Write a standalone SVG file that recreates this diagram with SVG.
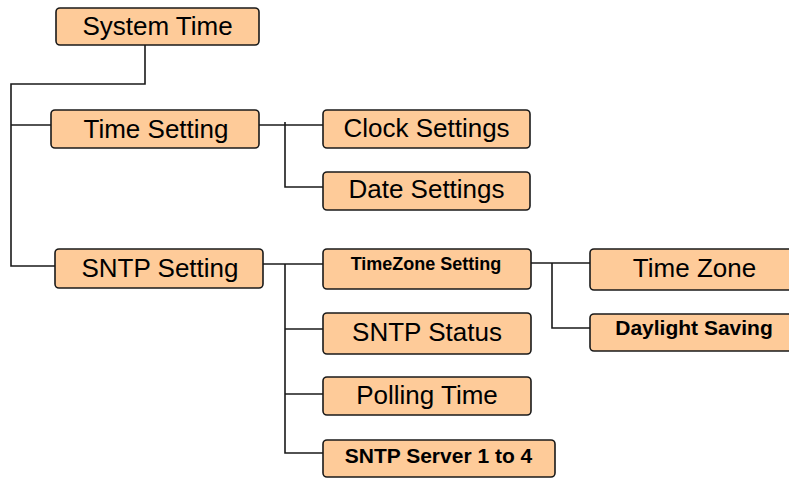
<svg xmlns="http://www.w3.org/2000/svg" width="789" height="480" viewBox="0 0 789 480">
<style>
.box{fill:#FECB99;stroke:#1a1a1a;stroke-width:1.6}
.t{font-family:"Liberation Sans",Arial,sans-serif;font-size:26px;fill:#000;text-anchor:middle}
.b{font-family:"Liberation Sans",Arial,sans-serif;font-weight:bold;fill:#000;text-anchor:middle}
.c{fill:none;stroke:#1a1a1a;stroke-width:1.6}
</style>
<rect width="789" height="480" fill="#fff"/>
<g id="connectors">
<polyline class="c" points="145,45 145,84 11,84 11,266 55,266"/>
<line class="c" x1="11" y1="125" x2="51" y2="125"/>
<line class="c" x1="259" y1="125" x2="323" y2="125"/>
<polyline class="c" points="285,122 285,187 323,187"/>
<line class="c" x1="263" y1="264" x2="323" y2="264"/>
<polyline class="c" points="285,264 285,453 323,453"/>
<line class="c" x1="285" y1="329" x2="323" y2="329"/>
<line class="c" x1="285" y1="394" x2="323" y2="394"/>
<line class="c" x1="527" y1="263" x2="590" y2="263"/>
<polyline class="c" points="552,263 552,328 590,328"/>
</g>
<g id="system-time"><rect class="box" x="56" y="8" width="203" height="37" rx="4"/><text class="t" x="157.5" y="35">System Time</text></g>
<g id="time-setting"><rect class="box" x="51" y="110" width="208" height="38" rx="4"/><text class="t" x="156" y="138">Time Setting</text></g>
<g id="clock-settings"><rect class="box" x="323" y="110" width="207" height="38" rx="4"/><text class="t" x="426.5" y="137">Clock Settings</text></g>
<g id="date-settings"><rect class="box" x="323" y="172" width="207" height="38" rx="4"/><text class="t" x="426.5" y="198">Date Settings</text></g>
<g id="sntp-setting"><rect class="box" x="55" y="249" width="208" height="39" rx="4"/><text class="t" x="160" y="277">SNTP Setting</text></g>
<g id="timezone-setting"><rect class="box" x="323" y="249" width="208" height="40" rx="4"/><text class="b" x="426" y="270" font-size="18">TimeZone Setting</text></g>
<g id="sntp-status"><rect class="box" x="323" y="313" width="208" height="41" rx="4"/><text class="t" x="427" y="341">SNTP Status</text></g>
<g id="polling-time"><rect class="box" x="323" y="377" width="208" height="38" rx="4"/><text class="t" x="427" y="404">Polling Time</text></g>
<g id="sntp-server"><rect class="box" x="323" y="440" width="232" height="37" rx="4"/><text class="b" x="438.5" y="463" font-size="21">SNTP Server 1 to 4</text></g>
<g id="time-zone"><rect class="box" x="590" y="249" width="210" height="41" rx="4"/><text class="t" x="694.5" y="277">Time Zone</text></g>
<g id="daylight-saving"><rect class="box" x="590" y="314" width="210" height="37" rx="4"/><text class="b" x="694" y="335" font-size="21">Daylight Saving</text></g>
</svg>
